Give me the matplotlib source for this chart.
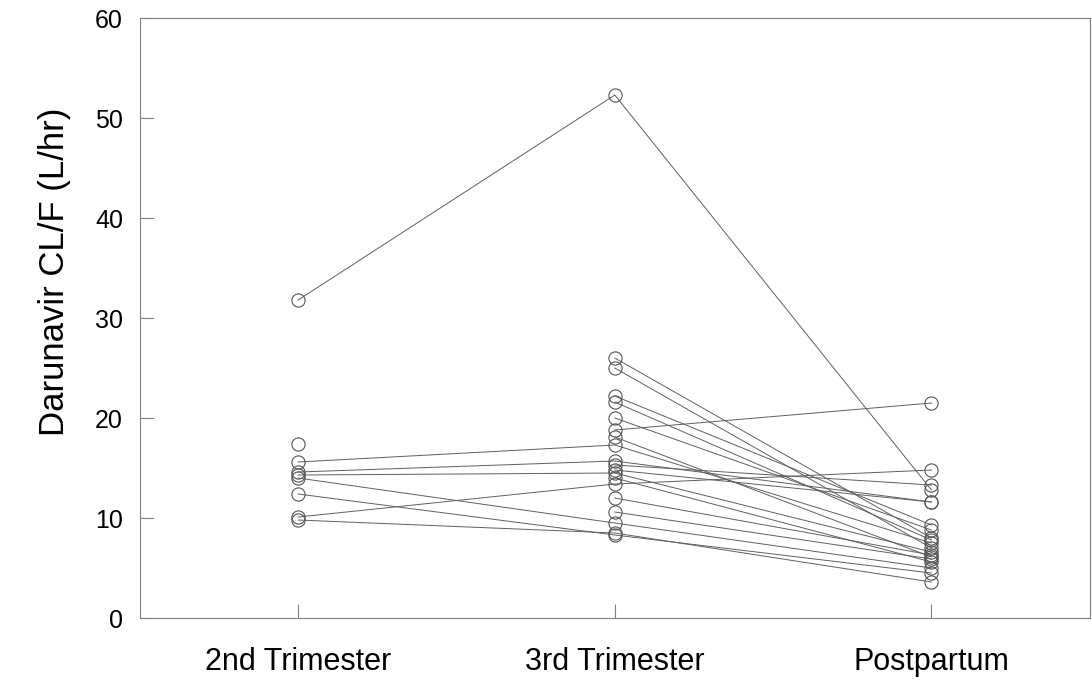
import numpy as np
import matplotlib
matplotlib.use("Agg")
import matplotlib.pyplot as plt

plt.rcParams['font.family'] = ['Liberation Sans', 'DejaVu Sans']

# visits on the x axis
visits = ["2nd Trimester", "3rd Trimester", "Postpartum"]

# darunavir CL/F per subject (L/hr), nan = not sampled
tri2 = [31.8, 17.4, 15.6, 14.6, 14.3, 14.0, 12.4, 10.1, 9.8,
        np.nan, np.nan, np.nan, np.nan, np.nan, np.nan, np.nan,
        np.nan, np.nan, np.nan, np.nan, np.nan]
tri3 = [52.3, np.nan, 17.3, 15.7, 14.5, 9.5, 8.3, 13.4, 8.5,
        26.0, 25.0, 22.2, 21.6, 20.0, 18.8, 18.1,
        15.3, 14.8, 14.0, 12.0, 10.6]
post = [12.8, np.nan, 7.5, 11.6, 6.6, 5.0, 4.5, 14.8, 3.6,
        8.0, 7.0, 9.3, 7.8, 8.8, 21.5, 6.1,
        13.3, 11.6, 5.6, 6.3, 5.9]

fig = plt.figure(figsize=(10.92, 6.81), dpi=100)
ax = fig.add_axes([0.128, 0.0925, 0.870, 0.881])

x = np.arange(1, len(visits) + 1)
for a, b, c in zip(tri2, tri3, post):
    ax.plot(x, [a, b, c], color="#5f5f5f", lw=0.7,
            marker="o", ms=9.5, mfc="none", mec="#555555", mew=0.8)

ax.set_xlim(0.5, 3.5)
ax.set_ylim(0, 60)
ax.set_xticks(x)
ax.set_xticklabels(visits, fontsize=22)
ax.set_yticks(np.arange(0, 61, 10))
ax.tick_params(axis="y", direction="in", length=10, width=0.8,
               color="#808080", labelsize=18, pad=12)
ax.tick_params(axis="x", direction="in", length=10, width=0.8,
               color="#808080", pad=21)
for s in ax.spines.values():
    s.set_color("#808080")
    s.set_linewidth(0.8)

ax.set_ylabel("Darunavir CL/F (L/hr)", fontsize=25)
ax.yaxis.set_label_coords(-0.072, 0.577)

fig.savefig("out.png", dpi=100)
